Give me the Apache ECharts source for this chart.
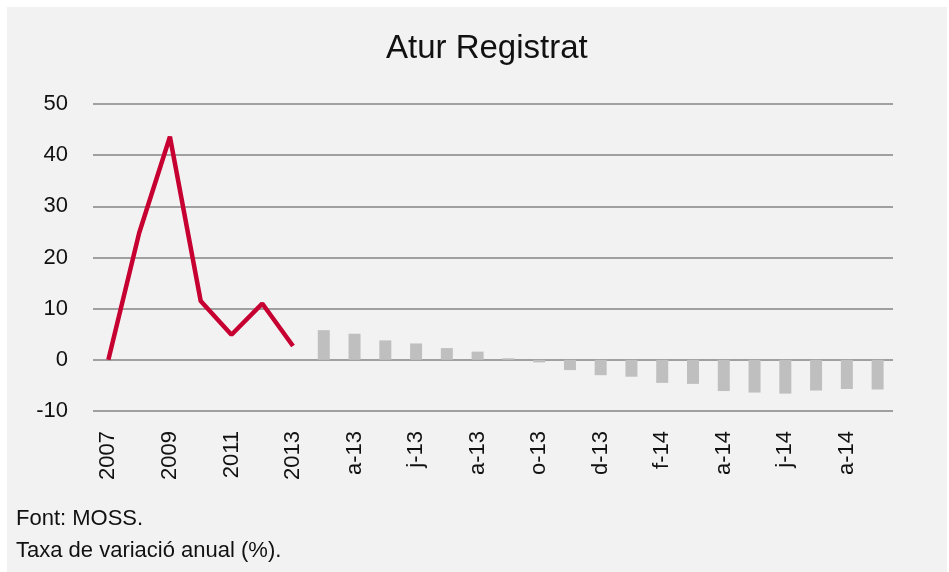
<!DOCTYPE html>
<html>
<head>
<meta charset="utf-8">
<script src="https://cdn.jsdelivr.net/npm/echarts@6/dist/echarts.min.js"></script>
<style>
  html, body { margin: 0; padding: 0; background: #fff; }
  #app { width: 949px; height: 572px; }
</style>
</head>
<body>
<div id="app"></div>
<script>
// categories: annual 2007-2013 then monthly mar-13 .. sep-14
const categories = ['2007', '2008', '2009', '2010', '2011', '2012', '2013',
    'm-13', 'a-13', 'm-13', 'j-13', 'jl-13', 'a-13', 's-13', 'o-13', 'n-13', 'd-13',
    'g-14', 'f-14', 'm-14', 'a-14', 'm-14', 'j-14', 'jl-14', 'a-14', 's-14']

// anual rate (line)
const annualValues = [0, 24.8, 43.6, 11.5, 4.9, 11.0, 2.7]
// monthly rate (bars)
const monthlyValues = [5.8, 5.1, 3.8, 3.2, 2.3, 1.6, 0.3, -0.5, -2.0, -3.0,
    -3.3, -4.5, -4.7, -6.1, -6.4, -6.6, -6.0, -5.7, -5.8]

const yTicks = {min: -10, max: 50, interval: 10}

const FONT = '"Liberation Sans", Arial, sans-serif'

const lineData = categories.map((c, i) => i < annualValues.length ? annualValues[i] : '-')
const barData = categories.map((c, i) => i < annualValues.length ? '-' : monthlyValues[i - annualValues.length])

const myCharts = echarts.init(document.getElementById('app'), null, {renderer: 'canvas'})

const option = {
    animation: false,
    backgroundColor: '#ffffff',
    title: {
        text: 'Atur Registrat',
        left: 381,
        top: 27,
        textStyle: {fontFamily: FONT, fontSize: 33, fontWeight: 'normal', color: '#111'}
    },
    graphic: [
        {
            type: 'rect', z: -10, silent: true,
            shape: {x: 7, y: 7, width: 940, height: 565},
            style: {fill: '#f2f2f2'}
        },
        {
            type: 'text', left: 16, top: 508,
            style: {text: 'Font: MOSS.', font: '22px ' + FONT, fill: '#111'}
        },
        {
            type: 'text', left: 16, top: 540,
            style: {text: 'Taxa de variació anual (%).', font: '22px ' + FONT, fill: '#111'}
        }
    ],
    grid: {left: 93, right: 56, top: 104, bottom: 161},
    xAxis: {
        type: 'category',
        data: categories,
        boundaryGap: true,
        axisLine: {show: false},
        axisTick: {show: false},
        axisLabel: {
            interval: 1,
            rotate: 90,
            margin: 20,
            fontFamily: FONT,
            fontSize: 22,
            color: '#111'
        }
    },
    yAxis: {
        type: 'value',
        min: yTicks.min,
        max: yTicks.max,
        interval: yTicks.interval,
        axisLine: {show: false},
        axisTick: {show: false},
        axisLabel: {margin: 25, fontFamily: FONT, fontSize: 22, color: '#111'},
        splitLine: {lineStyle: {color: '#858585', width: 1.5}}
    },
    series: [
        {
            name: 'mensual',
            type: 'bar',
            data: barData,
            barWidth: 12,
            itemStyle: {color: '#bfbfbf'}
        },
        {
            name: 'anual',
            type: 'line',
            data: lineData,
            showSymbol: false,
            symbol: 'none',
            z: 5,
            lineStyle: {color: '#c70032', width: 4.5}
        }
    ]
}

myCharts.setOption(option)
</script>
</body>
</html>
